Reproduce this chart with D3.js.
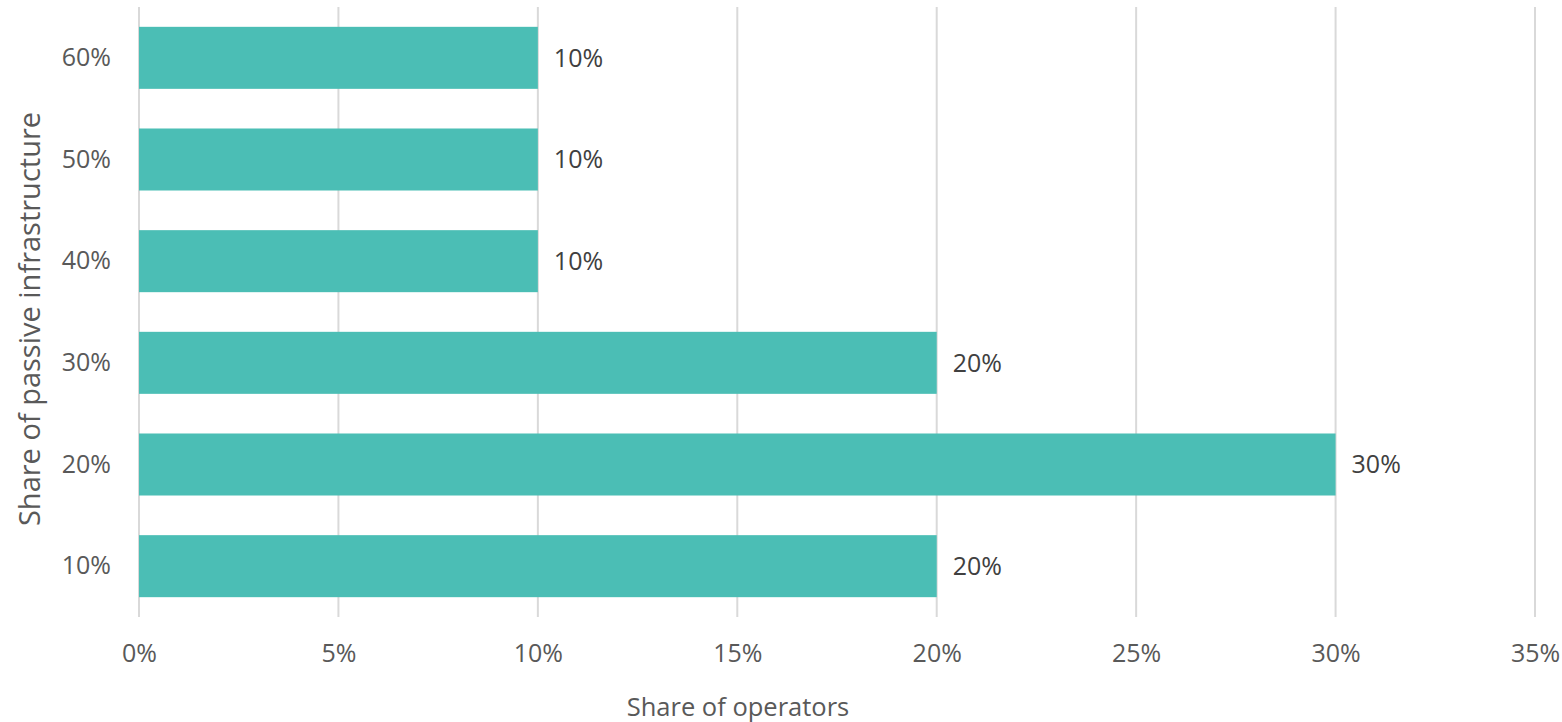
<!DOCTYPE html>
<html>
<head>
<meta charset="utf-8">
<script src="https://cdn.jsdelivr.net/npm/d3@7"></script>
<style>
  body { margin: 0; background: #fff; }
  text { font-family: "Open Sans", sans-serif; fill: #595959; }
</style>
</head>
<body>
<script>
var width = 1562, height = 722;
var margin = {top: 7, right: 27, bottom: 105, left: 139};

// data
var categories = ['60%', '50%', '40%', '30%', '20%', '10%'];
var values = [0.10, 0.10, 0.10, 0.20, 0.30, 0.20];
var xTicks = [0, 0.05, 0.10, 0.15, 0.20, 0.25, 0.30, 0.35];

var svg = d3.select('body').append('svg')
    .attr('width', width)
    .attr('height', height);

var g = svg.append('g').attr('transform', 'translate(' + margin.left + ',' + margin.top + ')');

var w = width - margin.left - margin.right;
var h = height - margin.top - margin.bottom;

var x = d3.scaleLinear().domain([0, 0.35]).range([0, w]);
var y = d3.scaleBand().domain(categories).range([0, h]).paddingInner(0.39).paddingOuter(0.195);

var fmt = d3.format('.0%');

// gridlines
g.selectAll('.grid')
  .data(xTicks)
  .enter().append('line')
  .attr('x1', d => x(d)).attr('x2', d => x(d))
  .attr('y1', 0).attr('y2', h)
  .attr('stroke', '#d9d9d9')
  .attr('stroke-width', 2);

g.selectAll('rect')
  .data(values)
  .enter().append('rect')
  .attr('x', 0)
  .attr('y', (d, i) => y(categories[i]))
  .attr('width', d => x(d))
  .attr('height', y.bandwidth())
  .attr('fill', '#4bbeb5');

g.selectAll('.lbl')
  .data(values)
  .enter().append('text')
  .attr('x', d => x(d) + 16)
  .attr('y', (d, i) => y(categories[i]) + y.bandwidth() / 2)
  .attr('dy', '0.35em')
  .attr('font-size', '25px')
  .style('fill', '#404040')
  .text(d => fmt(d));

var xAxis = d3.axisBottom(x).tickValues(xTicks).tickFormat(fmt).tickSize(0).tickPadding(27);
var gx = g.append('g').attr('transform', 'translate(0,' + h + ')').call(xAxis);
gx.select('.domain').remove();
gx.selectAll('text').attr('font-size', '25px').attr('fill', '#595959').style('font-family', '"Open Sans", sans-serif');

var yAxis = d3.axisLeft(y).tickSize(0).tickPadding(28);
var gy = g.append('g').call(yAxis);
gy.select('.domain').remove();
gy.selectAll('text').attr('font-size', '25px').attr('fill', '#595959').style('font-family', '"Open Sans", sans-serif');

svg.append('text')
  .attr('x', 738)
  .attr('y', 707)
  .attr('dy', '0.35em')
  .attr('text-anchor', 'middle')
  .attr('font-size', '25.5px')
  .text('Share of operators');

svg.append('text')
  .attr('transform', 'translate(30,319) rotate(-90)')
  .attr('dy', '0.35em')
  .attr('text-anchor', 'middle')
  .attr('font-size', '29px')
  .text('Share of passive infrastructure');
</script>
</body>
</html>
